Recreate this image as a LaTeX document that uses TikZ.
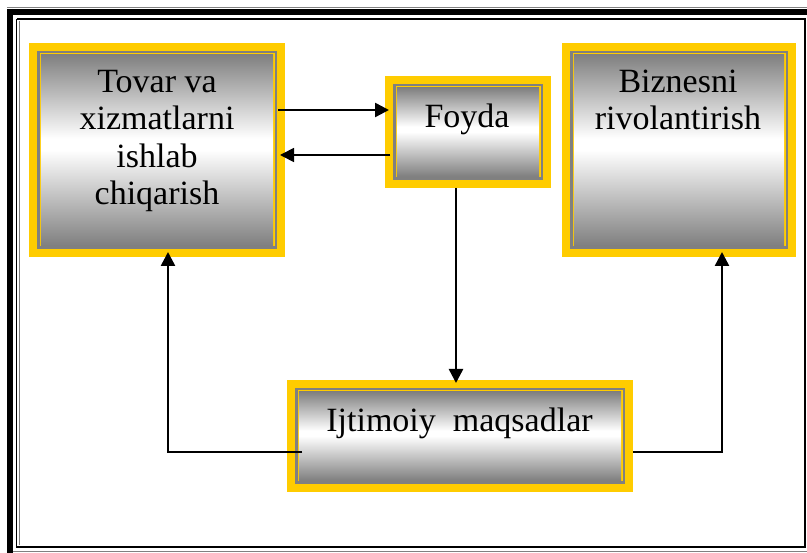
\documentclass[tikz,border=0pt]{standalone}
\usepackage{fontspec}
\setmainfont{Liberation Serif}
\usetikzlibrary{arrows.meta,calc}
\definecolor{byellow}{HTML}{FFCC00}
\definecolor{bgray}{HTML}{808080}
\pgfdeclareverticalshading{boxshade}{100bp}{color(0bp)=(bgray); color(25bp)=(bgray); color(50bp)=(white); color(53bp)=(white); color(75bp)=(bgray); color(100bp)=(bgray)}
\tikzset{
  fbox/.style={draw=none, fill=byellow, inner sep=0pt, outer sep=0pt,
    path picture={
      \fill[bgray] ([shift={(8pt,-8pt)}]path picture bounding box.north west) rectangle ([shift={(-8pt,8pt)}]path picture bounding box.south east);
      \fill[byellow] ([shift={(10.5pt,-10.5pt)}]path picture bounding box.north west) rectangle ([shift={(-10.5pt,10.5pt)}]path picture bounding box.south east);
      \shade[shading=boxshade] ([shift={(11.8pt,-11.8pt)}]path picture bounding box.north west) rectangle ([shift={(-11.8pt,11.8pt)}]path picture bounding box.south east);
    }},
  btext/.style={font=\fontsize{34}{37.5}\selectfont, align=center, inner sep=0pt, anchor=base},
  arr/.style={line width=2.5pt, -{Triangle[length=14pt,width=14pt]}},
  arrthin/.style={line width=1.7pt, -{Triangle[length=14pt,width=14pt]}}
}
\begin{document}
\begin{tikzpicture}[x=1pt,y=-1pt]
\useasboundingbox (0,0) rectangle (807,553);
% page frame
\draw[bgray, line width=1pt] (7,8) -- (807,8);
\draw[black, line width=6pt] (7,12) -- (807,12);
\draw[black, line width=6pt] (10,9) -- (10,553);
\draw[black, line width=1.3pt] (16.8,19) -- (805,19);
\draw[black, line width=1.3pt] (16.8,19) -- (16.8,547);
\draw[black, line width=2.5pt] (805,18.5) -- (805,548);
\draw[black, line width=2.5pt] (16.2,547) -- (806,547);
\draw[bgray, line width=0.8pt] (19,21) -- (19,545);
\draw[bgray, line width=1pt] (13,552) -- (807,552);
% boxes
\node[fbox, minimum width=256pt, minimum height=214pt] (tovar) at (157,150) {};
\node[fbox, minimum width=166pt, minimum height=112pt] (foyda) at (468,132) {};
\node[fbox, minimum width=234pt, minimum height=214pt] (biz) at (679,150) {};
\node[fbox, minimum width=346pt, minimum height=112pt] (ijt) at (460,436) {};
% texts (base anchor = baseline of last line)
\node[btext] (tovart) at (157,205) {Tovar va\\xizmatlarni\\ishlab\\chiqarish};
\node[btext] (foydat) at (467,128) {Foyda};
\node[btext] (bizt) at (678,130) {Biznesni\\rivolantirish};
\node[btext] (ijtt) at (459.5,432) {Ijtimoiy\ \ maqsadlar};
% connectors
\draw[arr] ($(tovar.east)+(-7,-40)$) -- ($(foyda.west)+(4,-22)$);
\draw[arrthin] ($(foyda.west)+(5,23)$) -- ($(tovar.east)+(-5,5)$);
\draw[arr] ($(foyda.south)+(-12,0)$) -- ($(ijt.north)+(-4,3)$);
\draw[arr] ($(ijt.west)+(15,16)$) -| ($(tovar.south)+(11,-5)$);
\draw[arr] ($(ijt.east)+(0,16)$) -| ($(biz.south)+(43,-5)$);
\end{tikzpicture}
\end{document}
